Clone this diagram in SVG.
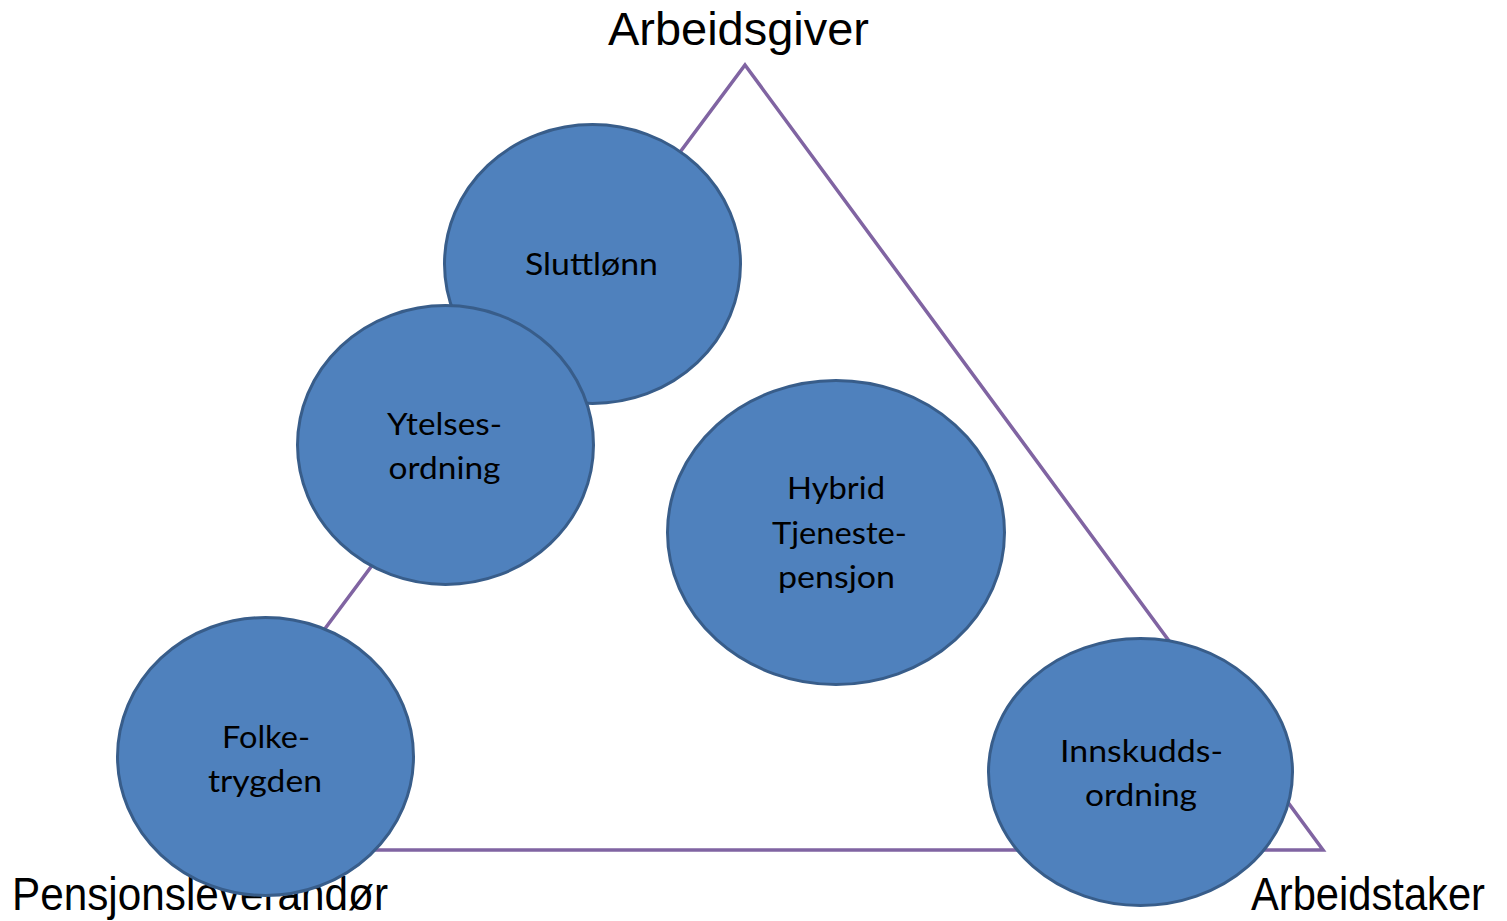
<svg xmlns="http://www.w3.org/2000/svg" width="1507" height="921" viewBox="0 0 1507 921">
  <style>
    .bubble { fill: #4F81BD; stroke: #385D8A; stroke-width: 3; }
    .in { font-family: Lato, "Open Sans", "Liberation Sans", sans-serif; font-size: 31px; fill: #000; text-anchor: middle; }
    .corner { font-family: "Liberation Sans", Arial, sans-serif; font-size: 46px; fill: #000; }
    .tri { fill: none; stroke: #8064A2; stroke-width: 3.5; stroke-linejoin: miter; }
  </style>
  <rect width="1507" height="921" fill="#FFFFFF"/>
  <g id="connectors">
    <polygon class="tri" points="745,65 1323,850 160,850"/>
  </g>
  <g id="label-arbeidsgiver">
    <text class="corner" x="608" y="45" textLength="261" lengthAdjust="spacingAndGlyphs">Arbeidsgiver</text>
  </g>
  <g id="label-pensjonsleverandor">
    <text class="corner" x="12" y="910" textLength="376" lengthAdjust="spacingAndGlyphs">Pensjonsleverandør</text>
  </g>
  <g id="label-arbeidstaker">
    <text class="corner" x="1251" y="910" textLength="234" lengthAdjust="spacingAndGlyphs">Arbeidstaker</text>
  </g>
  <g id="node-sluttlonn">
    <ellipse class="bubble" cx="592.5" cy="264" rx="148" ry="139.5"/>
    <text class="in" x="591.5" y="275" textLength="133" lengthAdjust="spacingAndGlyphs">Sluttlønn</text>
  </g>
  <g id="node-ytelsesordning">
    <ellipse class="bubble" cx="445.5" cy="445" rx="148" ry="139.5"/>
    <text class="in" x="444.5" y="435" textLength="115" lengthAdjust="spacingAndGlyphs">Ytelses-</text>
    <text class="in" x="444.5" y="479" textLength="112" lengthAdjust="spacingAndGlyphs">ordning</text>
  </g>
  <g id="node-folketrygden">
    <ellipse class="bubble" cx="265.5" cy="756.5" rx="148" ry="139"/>
    <text class="in" x="266" y="748" textLength="88" lengthAdjust="spacingAndGlyphs">Folke-</text>
    <text class="in" x="265" y="792" textLength="114" lengthAdjust="spacingAndGlyphs">trygden</text>
  </g>
  <g id="node-hybrid">
    <ellipse class="bubble" cx="836" cy="532.5" rx="168.5" ry="152"/>
    <text class="in" x="836" y="499" textLength="98" lengthAdjust="spacingAndGlyphs">Hybrid</text>
    <text class="in" x="839.5" y="544" textLength="135" lengthAdjust="spacingAndGlyphs">Tjeneste-</text>
    <text class="in" x="836.5" y="588" textLength="117" lengthAdjust="spacingAndGlyphs">pensjon</text>
  </g>
  <g id="node-innskuddsordning">
    <ellipse class="bubble" cx="1140.5" cy="772" rx="152" ry="133.5"/>
    <text class="in" x="1141.5" y="762" textLength="163" lengthAdjust="spacingAndGlyphs">Innskudds-</text>
    <text class="in" x="1141" y="806" textLength="112" lengthAdjust="spacingAndGlyphs">ordning</text>
  </g>
</svg>
